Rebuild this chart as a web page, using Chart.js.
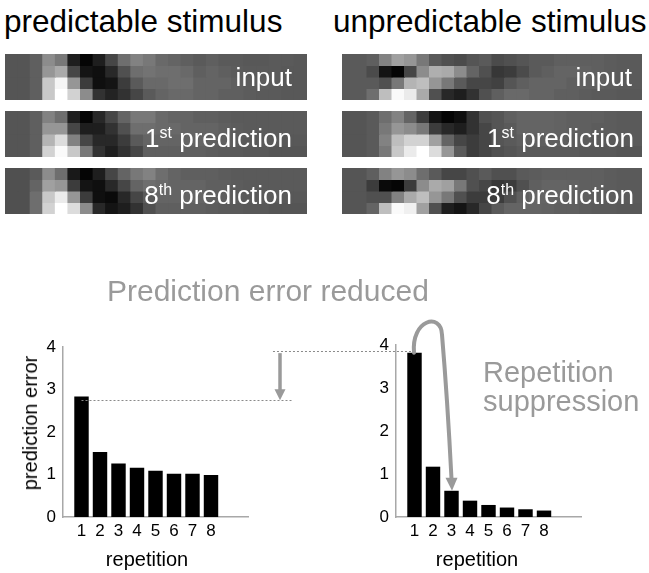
<!DOCTYPE html>
<html><head><meta charset="utf-8">
<script src="https://cdn.jsdelivr.net/npm/chart.js@4.4.1/dist/chart.umd.min.js"></script>
<style>
html,body{margin:0;padding:0;background:#fff;}
#fig{position:relative;width:649px;height:573px;overflow:hidden;font-family:"Liberation Sans",Arial,sans-serif;}
canvas{position:absolute;}
.t{position:absolute;white-space:nowrap;}
.title{font-size:31.5px;line-height:32px;color:#000;}
.lab{position:absolute;white-space:nowrap;color:#fff;font-size:26px;line-height:26px;text-align:right;}
.lab span{font-size:16px;position:relative;top:-9px;}
.gray{color:#9a9a9a;}
.axt{font-size:20px;line-height:20px;color:#000;transform:translate(-50%,-50%);}
</style></head><body>
<div id="fig">
  <div class="t title" style="left:4px;top:5px">predictable stimulus</div>
  <div class="t title" style="left:333px;top:5px">unpredictable stimulus</div>

  <canvas id="h0" width="302" height="46" style="left:5px;top:54px"></canvas>
  <canvas id="h1" width="302" height="46" style="left:5px;top:111px"></canvas>
  <canvas id="h2" width="302" height="46" style="left:5px;top:168px"></canvas>
  <canvas id="h3" width="300" height="46" style="left:342px;top:54px"></canvas>
  <canvas id="h4" width="300" height="46" style="left:342px;top:111px"></canvas>
  <canvas id="h5" width="300" height="46" style="left:342px;top:168px"></canvas>

  <div class="lab" style="right:357px;top:64px">input</div>
  <div class="lab" style="right:357px;top:125px">1<span>st</span> prediction</div>
  <div class="lab" style="right:357px;top:182px">8<span>th</span> prediction</div>
  <div class="lab" style="right:17px;top:64px">input</div>
  <div class="lab" style="right:15px;top:125px">1<span>st</span> prediction</div>
  <div class="lab" style="right:15px;top:182px">8<span>th</span> prediction</div>

  <canvas id="barL" width="300" height="243" style="left:0px;top:330px"></canvas>
  <canvas id="barR" width="389" height="273" style="left:260px;top:300px"></canvas>

  <div class="t gray" style="left:107px;top:276px;font-size:30px;line-height:30px">Prediction error reduced</div>
  <div class="t gray" style="left:483px;top:358px;font-size:29px;line-height:29px">Repetition<br>suppression</div>

  <div class="t axt" style="left:30px;top:423px;transform:translate(-50%,-50%) rotate(-90deg)">prediction error</div>
  <div class="t axt" style="left:147px;top:559px">repetition</div>
  <div class="t axt" style="left:477px;top:559px">repetition</div>
</div>
<script>
// ---------- data ----------
const repetitions = [1, 2, 3, 4, 5, 6, 7, 8];
const predictableError = [2.84, 1.53, 1.26, 1.16, 1.09, 1.02, 1.02, 0.99];
const unpredictableError = [3.82, 1.17, 0.61, 0.38, 0.28, 0.22, 0.18, 0.15];
const yTickValues = [0, 1, 2, 3, 4];
const reducedLevels = [3.86, 2.75];      // dotted reference levels (prediction error)
const arrowRep = 11.73;                  // x position (repetition units) of the "reduced" arrow
const lineStartRep = -6.65;              // start of upper dotted line, right chart units

// grey levels (0-255) of the stimulus images, 4 rows x 24 columns
const predInput = [
  [85,85,95,140,120,30,5,30,70,110,130,120,105,100,95,90,95,90,90,88,88,90,90,88],
  [85,85,95,150,170,70,20,15,40,80,110,115,110,110,105,95,100,95,92,90,90,90,88,88],
  [85,85,95,200,245,150,60,15,20,60,90,105,105,110,110,100,100,100,95,92,92,90,88,88],
  [85,85,95,200,255,210,140,50,35,50,70,90,100,105,105,100,100,95,95,92,90,90,88,88]
];
const predFirst = [
  [85,85,95,130,110,30,5,40,70,100,120,120,105,100,100,95,95,92,90,90,90,90,90,90],
  [85,85,95,150,150,70,30,30,50,80,110,110,105,105,100,100,100,95,92,90,90,90,90,90],
  [85,85,95,180,220,130,70,40,40,60,90,100,100,100,100,100,95,95,92,90,90,90,88,88],
  [85,85,95,210,250,200,120,50,30,50,70,95,95,95,95,95,92,90,90,88,88,85,85,85]
];
const predEighth = [
  [80,80,90,140,110,25,5,30,70,100,120,130,110,100,95,95,95,92,90,90,90,90,90,90],
  [80,80,100,160,150,60,20,15,40,70,100,110,105,100,100,100,95,95,92,90,90,90,90,90],
  [80,80,110,200,235,150,60,15,10,40,70,90,100,100,100,100,95,95,92,90,90,90,88,88],
  [80,80,110,210,255,220,140,40,20,30,50,80,95,95,95,95,92,90,90,88,88,85,85,85]
];
const unpredInput = [
  [90,90,95,130,160,150,120,90,80,75,85,90,75,80,85,90,90,95,95,95,95,92,90,90],
  [90,90,75,20,5,70,140,175,170,140,100,80,55,60,75,90,95,100,100,98,95,92,90,90],
  [90,90,90,80,120,180,190,150,120,90,70,70,65,85,95,100,100,100,95,95,95,92,90,90],
  [90,90,110,190,250,235,170,80,40,30,50,80,95,105,105,100,100,95,95,92,90,90,88,88]
];
const unpredFirst = [
  [85,85,90,110,130,100,60,20,5,15,50,80,85,95,100,100,100,98,95,95,95,92,90,90],
  [85,85,90,120,150,140,120,60,40,30,50,70,85,90,100,100,100,98,95,95,92,92,90,90],
  [85,85,90,130,190,210,210,160,100,70,60,70,85,90,95,95,95,95,92,92,90,90,90,90],
  [85,85,90,120,200,235,255,220,150,90,60,70,80,85,90,90,90,90,90,88,88,88,85,85]
];
const unpredEighth = [
  [85,85,95,130,150,140,110,90,70,70,80,90,80,80,90,92,95,95,95,95,95,92,90,90],
  [85,85,60,10,5,60,140,170,160,120,80,70,55,60,80,95,100,100,98,95,95,92,90,90],
  [85,85,80,80,130,170,190,150,120,80,60,60,60,80,95,100,100,98,95,95,92,92,90,90],
  [85,85,100,190,250,240,160,80,30,20,40,70,90,100,100,100,98,95,95,92,90,90,88,88]
];

// ---------- setup ----------
Chart.defaults.font.family = '"Liberation Sans", Arial, sans-serif';
Chart.defaults.color = '#000';

function heatmap(id, grid) {
  const cols = grid[0].map((_, i) => String(i));
  new Chart(document.getElementById(id), {
    type: 'bar',
    data: {
      labels: cols,
      datasets: grid.map(row => ({
        data: row.map(() => 1),
        backgroundColor: row.map(g => `rgb(${g},${g},${g})`),
        borderWidth: 0,
        barPercentage: 1,
        categoryPercentage: 1,
        inflateAmount: 0.5
      }))
    },
    options: {
      responsive: false, animation: false, devicePixelRatio: 1,
      layout: { padding: 0 },
      plugins: { legend: { display: false }, tooltip: { enabled: false } },
      scales: {
        x: { display: false, stacked: true },
        y: { display: false, stacked: true, min: 0, max: grid.length, reverse: true }
      }
    }
  });
}
heatmap('h0', predInput);
heatmap('h1', predFirst);
heatmap('h2', predEighth);
heatmap('h3', unpredInput);
heatmap('h4', unpredFirst);
heatmap('h5', unpredEighth);

const ARROW = '#9a9a9a';
const DOT = '#8a8a8a';

const leftAnno = {
  id: 'leftAnno',
  afterDatasetsDraw(chart) {
    const { ctx, scales: { x, y } } = chart;
    const bar1 = chart.getDatasetMeta(0).data[0];
    const ax = x.getPixelForValue(arrowRep);
    const yTop = y.getPixelForValue(reducedLevels[0]);
    const yBot = y.getPixelForValue(reducedLevels[1]);
    ctx.save();
    ctx.strokeStyle = DOT; ctx.lineWidth = 1; ctx.setLineDash([2, 2]);
    ctx.beginPath(); ctx.moveTo(bar1.x, Math.round(yBot) + 0.5); ctx.lineTo(ax + 12, Math.round(yBot) + 0.5); ctx.stroke();
    ctx.setLineDash([]);
    ctx.strokeStyle = ARROW; ctx.fillStyle = ARROW; ctx.lineWidth = 3.5;
    ctx.beginPath(); ctx.moveTo(ax, yTop); ctx.lineTo(ax, yBot - 9); ctx.stroke();
    ctx.beginPath(); ctx.moveTo(ax - 5.5, yBot - 11); ctx.lineTo(ax + 5.5, yBot - 11); ctx.lineTo(ax, yBot); ctx.closePath(); ctx.fill();
    ctx.restore();
  }
};

const rightAnno = {
  id: 'rightAnno',
  afterDatasetsDraw(chart) {
    const { ctx, scales: { x, y } } = chart;
    const bars = chart.getDatasetMeta(0).data;
    const b1 = bars[0], b3 = bars[2];
    const yTop = y.getPixelForValue(reducedLevels[0]);
    ctx.save();
    ctx.strokeStyle = DOT; ctx.lineWidth = 1; ctx.setLineDash([2, 2]);
    ctx.beginPath(); ctx.moveTo(x.getPixelForValue(lineStartRep), Math.round(yTop) + 0.5); ctx.lineTo(b1.x - 2, Math.round(yTop) + 0.5); ctx.stroke();
    ctx.setLineDash([]);
    // curved "repetition suppression" arrow from bar 1 to bar 3
    ctx.strokeStyle = ARROW; ctx.fillStyle = ARROW; ctx.lineWidth = 4; ctx.lineCap = 'round';
    const sx = b1.x - 0.5, sy = b1.y;
    ctx.beginPath();
    ctx.moveTo(sx, sy);
    ctx.bezierCurveTo(sx - 3, sy - 33, sx + 27, sy - 41, sx + 28, sy - 18);
    ctx.quadraticCurveTo(b3.x - 4, sy + 47, b3.x, b3.y - 12);
    ctx.stroke();
    ctx.beginPath();
    ctx.moveTo(b3.x - 6, b3.y - 13); ctx.lineTo(b3.x + 6, b3.y - 13); ctx.lineTo(b3.x + 0.5, b3.y); ctx.closePath(); ctx.fill();
    ctx.restore();
  }
};

function barChart(id, values, yAxisWidth, padding, plugin) {
  new Chart(document.getElementById(id), {
    type: 'bar',
    data: {
      datasets: [{
        data: repetitions.map((r, i) => ({ x: r, y: values[i] })),
        backgroundColor: '#000',
        borderWidth: 0,
        barPercentage: 0.78,
        categoryPercentage: 1
      }]
    },
    options: {
      responsive: false, animation: false, devicePixelRatio: 1,
      layout: { padding },
      plugins: { legend: { display: false }, tooltip: { enabled: false } },
      scales: {
        x: {
          type: 'linear', min: 0, max: 10, offset: false,
          grid: { display: false, drawTicks: false },
          border: { display: true, color: '#a8a8a8', width: 1.5 },
          afterBuildTicks: s => { s.ticks = repetitions.map(v => ({ value: v })); },
          afterFit: s => { s.height = 56; },
          ticks: { font: { size: 17 }, color: '#000', padding: 4, maxRotation: 0, autoSkip: false }
        },
        y: {
          min: 0, max: 4,
          grid: { display: false, drawTicks: false },
          border: { display: true, color: '#a8a8a8', width: 1.5 },
          afterBuildTicks: s => { s.ticks = yTickValues.map(v => ({ value: v })); },
          afterFit: s => { s.width = yAxisWidth; },
          ticks: { font: { size: 17 }, color: '#000', padding: 7 }
        }
      }
    },
    plugins: [plugin]
  });
}
barChart('barL', predictableError, 63, { top: 15, right: 52, left: 0, bottom: 0 }, leftAnno);
barChart('barR', unpredictableError, 136, { top: 45, right: 68, left: 0, bottom: 0 }, rightAnno);
</script>
</body></html>
